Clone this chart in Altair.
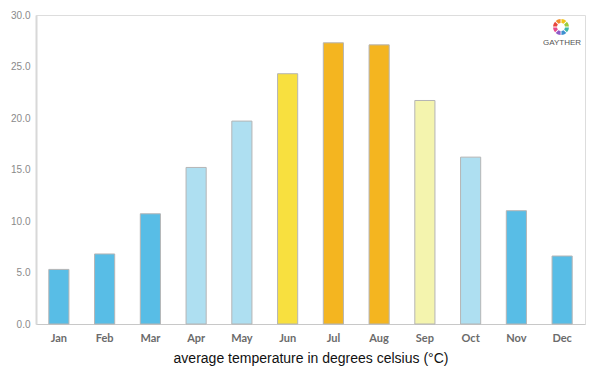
import altair as alt
import pandas as pd

months = ["Jan", "Feb", "Mar", "Apr", "May", "Jun", "Jul", "Aug", "Sep", "Oct", "Nov", "Dec"]
temps = [5.3, 6.8, 10.7, 15.2, 19.7, 24.3, 27.3, 27.1, 21.7, 16.2, 11.0, 6.6]
colors = ["#58bde6", "#58bde6", "#58bde6", "#aedff1", "#aedff1", "#f8e03f",
          "#f4b520", "#f4b520", "#f4f4ae", "#aedff1", "#58bde6", "#58bde6"]

logo_colors = ["#f0c419", "#9ccc3c", "#3fb8a6", "#3c8fd0", "#8e5bc6", "#e84a8c", "#e8453c", "#f08a2c"]

df = pd.DataFrame({"month": months, "temp": temps, "color": colors})
logo_df = pd.DataFrame({"k": list(range(len(logo_colors))), "v": [1] * len(logo_colors), "c": logo_colors})

FONT = "Lato"

bars = alt.Chart(df).mark_bar(stroke="#b5b5b5", strokeWidth=1).encode(
    x=alt.X("month:N", sort=months,
            scale=alt.Scale(paddingInner=0.56, paddingOuter=0.28),
            axis=alt.Axis(title="average temperature in degrees celsius (°C)",
                          labelAngle=0, ticks=False, labelPadding=8,
                          labelFont=FONT, labelFontWeight="bold", labelFontSize=11,
                          labelColor="#6b6b6b", domainColor="#c8c8c8",
                          titleFont="Liberation Sans", titleFontSize=14,
                          titleFontWeight="normal", titleColor="#111111",
                          titlePadding=8)),
    y=alt.Y("temp:Q", scale=alt.Scale(domain=[0, 30], nice=False),
            axis=alt.Axis(title=None, values=[0, 5, 10, 15, 20, 25, 30], format=".1f",
                          ticks=False, grid=False, labelFont="Liberation Sans",
                          labelFontSize=10, labelColor="#8a8a8a", labelPadding=6,
                          domainColor="#d8d8d8", domainWidth=2)),
    color=alt.Color("color:N", scale=None, legend=None),
)

ring = alt.Chart(logo_df).mark_arc(innerRadius=4, outerRadius=8, padAngle=0.1).encode(
    theta=alt.Theta("v:Q", stack=True),
    color=alt.Color("c:N", scale=None, legend=None),
    order=alt.Order("k:Q"),
    x=alt.value(525),
    y=alt.value(12),
)

logo_text = alt.Chart(pd.DataFrame({"t": ["GAYTHER"]})).mark_text(
    font="Liberation Sans", fontSize=8, color="#555555"
).encode(text="t:N", x=alt.value(526), y=alt.value(28))

chart = alt.layer(bars, ring, logo_text).properties(
    width=549, height=309,
    autosize=alt.AutoSizeParams(type="none"),
    padding={"left": 28, "top": 7, "right": 7, "bottom": 60},
).configure_view(stroke=None).configure(background="white")

chart.save("out.html", embed_options={"renderer": "svg", "actions": False})
